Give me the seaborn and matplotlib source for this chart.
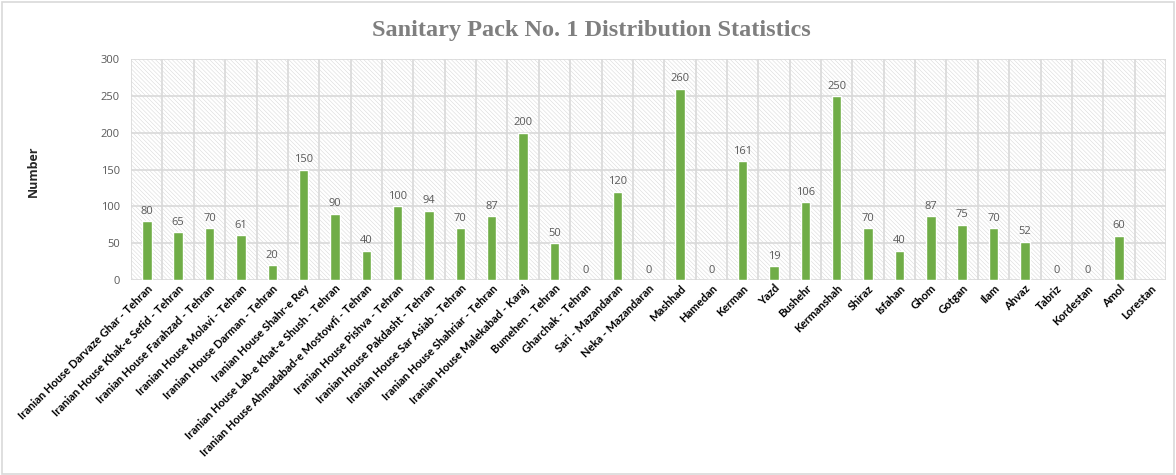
## bar chart of sanitary pack distribution per location
import numpy as np
import pandas as pd
import matplotlib
matplotlib.use('Agg')
import matplotlib.pyplot as plt
from matplotlib.patches import Rectangle
import seaborn as sns

sns.set_theme(style='white')
plt.rcParams['hatch.linewidth'] = 0.35
plt.rcParams['hatch.color'] = '#d6d6d6'

locations = [
    'Iranian House Darvaze Ghar - Tehran', 'Iranian House Khak-e Sefid - Tehran',
    'Iranian House Farahzad - Tehran', 'Iranian House Molavi - Tehran',
    'Iranian House Darman - Tehran', 'Iranian House Shahr-e Rey',
    'Iranian House Lab-e Khat-e Shush - Tehran', 'Iranian House Ahmadabad-e Mostowfi - Tehran',
    'Iranian House Pishva - Tehran', 'Iranian House Pakdasht - Tehran',
    'Iranian House Sar Asiab - Tehran', 'Iranian House Shahriar - Tehran',
    'Iranian House Malekabad - Karaj', 'Bumehen - Tehran', 'Gharchak - Tehran',
    'Sari - Mazandaran', 'Neka - Mazandaran', 'Mashhad', 'Hamedan', 'Kerman', 'Yazd',
    'Bushehr', 'Kermanshah', 'Shiraz', 'Isfahan', 'Ghom', 'Gotgan', 'Ilam', 'Ahvaz',
    'Tabriz', 'Kordestan', 'Amol', 'Lorestan',
]
counts = [80, 65, 70, 61, 20, 150, 90, 40, 100, 94, 70, 87, 200, 50, 0, 120, 0,
          260, 0, 161, 19, 106, 250, 70, 40, 87, 75, 70, 52, 0, 0, 60, np.nan]

df = pd.DataFrame({'Location': locations, 'Number': counts})

fig = plt.figure(figsize=(11.76, 4.75), dpi=100)
ax = fig.add_axes([0.1115, 0.4105, 0.88, 0.465])

# hatched plot area like the excel chart
ax.add_patch(Rectangle((0, 0), 1, 1, transform=ax.transAxes, facecolor='white',
                       edgecolor='#d6d6d6', hatch='\\' * 8, lw=0, zorder=0))

sns.barplot(data=df, x='Location', y='Number', order=locations, color='#70AD47',
            width=0.3, saturation=1, ax=ax, zorder=3)

n = len(locations)
ax.set_xlim(-0.5, n - 0.5)
ax.set_ylim(0, 300)
ax.set_yticks(range(0, 301, 50))

# grid lines between categories and at each y tick
for b in np.arange(-0.5, n, 1):
    ax.axvline(b, color='#d9d9d9', lw=1.2, zorder=1)
for t in range(0, 301, 50):
    ax.axhline(t, color='#d9d9d9', lw=1.2, zorder=1)

for s in ax.spines.values():
    s.set_visible(False)

# value labels
for i, v in enumerate(counts):
    if np.isnan(v):
        continue
    ax.text(i, v + 6, '%d' % v, ha='center', va='bottom', fontsize=8,
            color='#595959', family='Open Sans')

ax.tick_params(axis='y', length=0, pad=8, labelsize=8, labelcolor='#595959')
ax.tick_params(axis='x', length=0, pad=2)
for lab in ax.get_yticklabels():
    lab.set_family('Open Sans')
ax.set_xticks(range(n))
ax.set_xticklabels(locations, rotation=45, ha='right', rotation_mode='anchor',
                   fontsize=8, fontweight='bold', family='Lato', color='black')

ax.set_xlabel('')
ax.set_ylabel('')
fig.text(0.028, 0.64, 'Number', rotation=90, ha='center', va='center',
         fontsize=9, fontweight='bold', family='Open Sans')
fig.text(0.503, 0.935, 'Sanitary Pack No. 1 Distribution Statistics', ha='center',
         va='center', fontsize=17.5, fontweight='bold', family='Liberation Serif',
         color='#7f7f7f')

# outer chart frame
fig.patches.append(Rectangle((0.002, 0.003), 0.996, 0.993, transform=fig.transFigure,
                             fill=False, edgecolor='#d9d9d9', lw=1.2))

plt.savefig('out.png', dpi=100)
